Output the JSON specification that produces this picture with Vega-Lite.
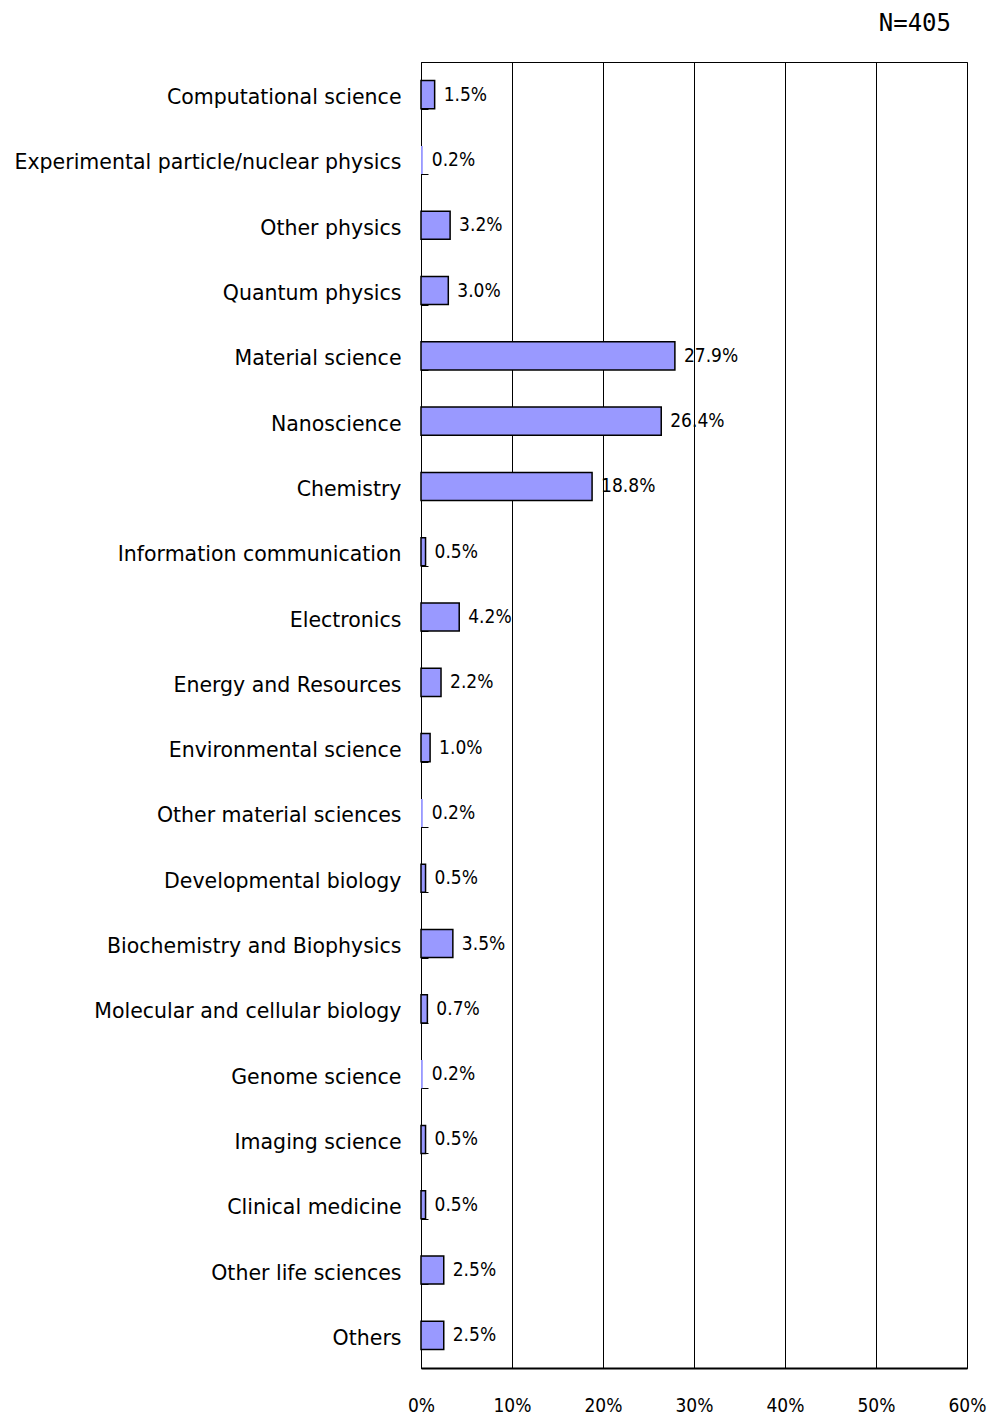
{
  "$schema": "https://vega.github.io/schema/vega-lite/v6.json",
  "autosize": {"type": "none"},
  "padding": {"left": 421, "top": 62, "right": 22, "bottom": 47},
  "width": 546,
  "height": 1306,
  "background": "white",
  "title": {"text": "N=405", "anchor": "end", "orient": "top", "offset": 16, "dx": -35, "font": "DejaVu Sans Mono", "fontSize": 24, "fontWeight": "normal", "color": "#000000"},
  "data": {"values": [
    {"field": "Computational science", "share": 0.015},
    {"field": "Experimental particle/nuclear physics", "share": 0.002},
    {"field": "Other physics", "share": 0.032},
    {"field": "Quantum physics", "share": 0.030},
    {"field": "Material science", "share": 0.279},
    {"field": "Nanoscience", "share": 0.264},
    {"field": "Chemistry", "share": 0.188},
    {"field": "Information communication", "share": 0.005},
    {"field": "Electronics", "share": 0.042},
    {"field": "Energy and Resources", "share": 0.022},
    {"field": "Environmental science", "share": 0.010},
    {"field": "Other material sciences", "share": 0.002},
    {"field": "Developmental biology", "share": 0.005},
    {"field": "Biochemistry and Biophysics", "share": 0.035},
    {"field": "Molecular and cellular biology", "share": 0.007},
    {"field": "Genome science", "share": 0.002},
    {"field": "Imaging science", "share": 0.005},
    {"field": "Clinical medicine", "share": 0.005},
    {"field": "Other life sciences", "share": 0.025},
    {"field": "Others", "share": 0.025}
  ]},
  "encoding": {
    "y": {"field": "field", "type": "nominal", "sort": null,
      "scale": {"paddingInner": 0.57, "paddingOuter": 0.285},
      "axis": {"title": null, "tickBand": "extent", "tickSize": -7, "tickColor": "#000000", "tickWidth": 1, "labelPadding": 27, "labelOffset": 3, "labelFont": "DejaVu Sans", "labelFontSize": 20.5, "labelColor": "#000000", "domainColor": "#000000", "domainWidth": 1, "grid": false, "labelLimit": 420}},
    "x": {"field": "share", "type": "quantitative",
      "scale": {"domain": [0, 0.6], "nice": false, "zero": true},
      "axis": {"title": null, "format": ".0%", "values": [0, 0.1, 0.2, 0.3, 0.4, 0.5, 0.6], "ticks": false, "labelPadding": 28, "labelFont": "DejaVu Sans Condensed", "labelFontSize": 19, "labelColor": "#000000", "domainColor": "#000000", "domainWidth": 2, "grid": true, "gridColor": "#000000", "gridOpacity": 1, "gridWidth": 1, "labelFlush": false}}
  },
  "layer": [
    {"mark": {"type": "bar", "color": "#9999FF", "stroke": "#000000", "strokeWidth": 1.5},
     "encoding": {"strokeOpacity": {"condition": {"test": "datum.share < 0.003", "value": 0}, "value": 1}}},
    {"mark": {"type": "text", "align": "left", "baseline": "middle", "dx": 9, "font": "DejaVu Sans Condensed", "fontSize": 19, "color": "#000000"},
     "encoding": {"text": {"field": "share", "type": "quantitative", "format": ".1%"}}}
  ],
  "config": {"view": {"stroke": "#000000", "strokeWidth": 1}}
}
